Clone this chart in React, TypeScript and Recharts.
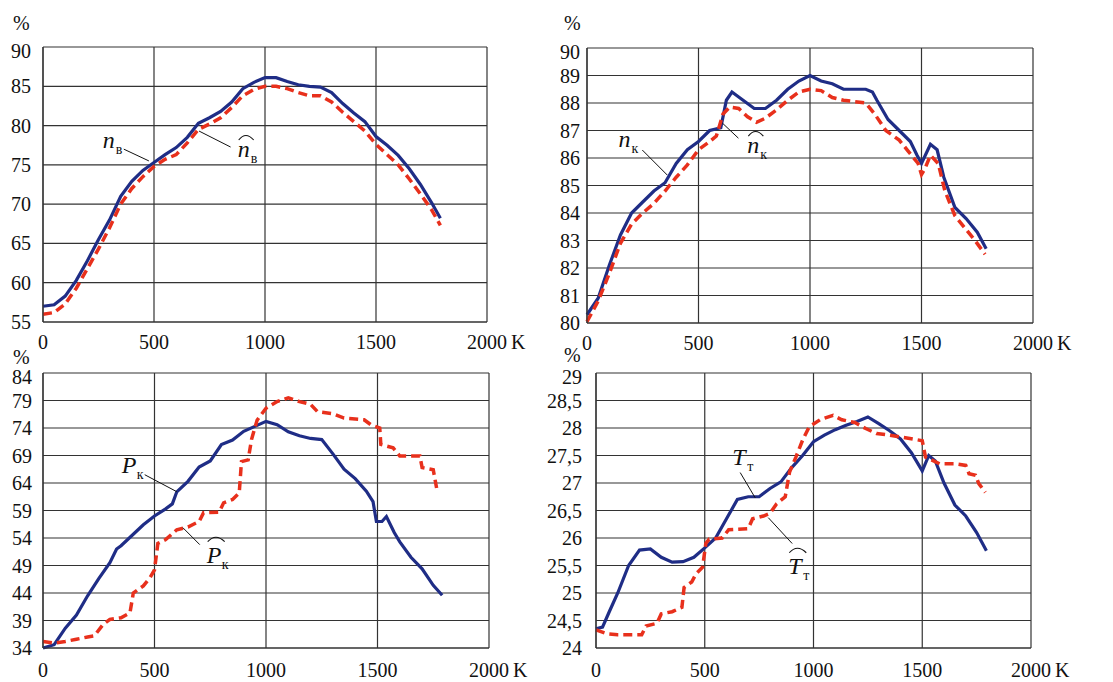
import React from "react";
import {
  LineChart,
  Line,
  XAxis,
  YAxis,
  CartesianGrid,
  ReferenceLine,
  ReferenceDot,
} from "recharts";

const FONT = "Liberation Serif, Times New Roman, serif";
const BLUE = "#1f2d86";
const RED = "#e8301c";

const xTicks = [0, 500, 1000, 1500, 2000];

// panel 1 — n_в
const nvTicks = [55, 60, 65, 70, 75, 80, 85, 90];
const nvX = [
  0, 50, 100, 150, 200, 250, 300, 350, 400, 450, 500, 550, 600, 650, 700, 750,
  800, 850, 900, 950, 1000, 1050, 1100, 1150, 1200, 1250, 1300, 1350, 1400,
  1450, 1500, 1550, 1600, 1650, 1700, 1750, 1790,
];
const nvMeasured = [
  57.0, 57.2, 58.3, 60.3, 62.8, 65.5, 68.0, 71.0, 72.9, 74.3, 75.3, 76.3, 77.2,
  78.5, 80.3, 81.0, 81.8, 83.0, 84.7, 85.5, 86.1, 86.1, 85.6, 85.2, 85.0, 84.9,
  84.2, 82.8, 81.6, 80.5, 78.6, 77.5, 76.2, 74.5, 72.5, 70.2, 68.2,
];
const nvModel = [
  56.0, 56.2, 57.3, 59.3, 61.8, 64.3, 67.0, 70.0, 72.0, 73.5, 74.8, 75.7, 76.3,
  77.8, 79.5, 80.2, 81.0, 82.3, 83.8, 84.6, 85.0, 85.0, 84.7, 84.2, 83.8, 83.8,
  83.0, 81.7, 80.5, 79.3, 77.6, 76.3, 75.0, 73.2, 71.3, 69.3, 67.3,
];

// panel 2 — n_к
const nkTicks = [80, 81, 82, 83, 84, 85, 86, 87, 88, 89, 90];
const nkMeasuredX = [
  0, 50, 100, 150, 200, 250, 300, 350, 400, 450, 500, 550, 600, 625, 650, 700,
  750, 800, 850, 900, 950, 1000, 1050, 1100, 1150, 1200, 1250, 1280, 1300, 1350,
  1400, 1450, 1480, 1500, 1540, 1570, 1600, 1650, 1700, 1750, 1790,
];
const nkMeasured = [
  80.3, 80.9, 82.1, 83.2, 84.0, 84.4, 84.8, 85.1, 85.8, 86.3, 86.6, 87.0, 87.1,
  88.1, 88.4, 88.1, 87.8, 87.8, 88.1, 88.5, 88.8, 89.0, 88.8, 88.7, 88.5, 88.5,
  88.5, 88.4, 88.1, 87.4, 87.0, 86.6, 86.1, 85.8, 86.5, 86.3, 85.3, 84.2, 83.8,
  83.3, 82.7,
];
const nkModelX = [
  0, 50, 100, 150, 200, 250, 300, 350, 400, 450, 500, 550, 580, 610, 640, 680,
  720, 760, 800, 850, 900, 950, 1000, 1050, 1100, 1150, 1200, 1250, 1290, 1340,
  1400, 1440, 1485, 1500, 1515, 1540, 1575, 1605, 1650, 1700, 1740, 1785,
];
const nkModel = [
  80.05, 80.8, 81.8, 82.9, 83.6, 84.0, 84.35, 84.8, 85.3, 85.75, 86.3, 86.6,
  86.8, 87.6, 87.85, 87.8, 87.5, 87.3, 87.45, 87.75, 88.1, 88.4, 88.5, 88.45,
  88.2, 88.1, 88.05, 88.0, 87.6, 87.0, 86.65, 86.25, 85.8, 85.4, 85.6, 86.1,
  85.8, 84.8, 83.9, 83.4, 83.0, 82.5,
];

// panel 3 — P_к
const pkTicks = [34, 39, 44, 49, 54, 59, 64, 69, 74, 79, 84];
const pkMeasuredX = [
  0, 50, 100, 150, 200, 250, 300, 330, 350, 400, 450, 500, 550, 580, 600, 650,
  700, 750, 800, 850, 900, 950, 1000, 1050, 1100, 1150, 1200, 1250, 1300, 1350,
  1400, 1450, 1480, 1495, 1520, 1540, 1575, 1600, 1650, 1700, 1750, 1790,
];
const pkMeasured = [
  34.0, 34.6, 37.6, 40.0, 43.5, 46.6, 49.5, 52.0, 52.6, 54.5, 56.4, 58.0, 59.3,
  60.2, 62.4, 64.3, 66.9, 68.0, 71.0, 71.8, 73.4, 74.3, 75.2, 74.6, 73.3, 72.6,
  72.1, 71.9, 69.3, 66.5, 64.8, 62.5, 60.6, 57.0, 57.0, 57.9, 55.0, 53.3, 50.5,
  48.4, 45.4, 43.6,
];
const pkModelX = [
  0, 50, 100, 150, 200, 230, 270, 300, 350, 390, 405, 450, 480, 500, 515, 550,
  600, 650, 700, 720, 790, 810, 850, 880, 890, 920, 935, 960, 1000, 1050, 1100,
  1150, 1200, 1230, 1300, 1350, 1440, 1470, 1510, 1515, 1570, 1600, 1690, 1700,
  1750, 1765,
];
const pkModel = [
  35.2, 34.9, 35.2, 35.6, 36.0, 36.2, 38.3, 39.2, 39.5, 40.4, 44.0, 45.3, 46.8,
  48.2, 53.0, 53.7, 55.5, 56.0, 57.0, 58.6, 58.7, 60.4, 61.0, 62.2, 67.9, 68.2,
  71.9, 75.4, 77.6, 78.8, 79.5, 78.8, 78.3, 77.0, 76.6, 75.8, 75.5, 74.6, 74.0,
  71.0, 70.4, 68.9, 68.9, 66.8, 66.4, 63.1,
];

// panel 4 — T_т
const ttTicks = [24, 24.5, 25, 25.5, 26, 26.5, 27, 27.5, 28, 28.5, 29];
const ttMeasuredX = [
  0, 30, 60, 100, 150, 200, 250, 300, 350, 400, 450, 500, 550, 600, 650, 700,
  750, 800, 850, 900, 950, 1000, 1050, 1100, 1150, 1200, 1250, 1300, 1350, 1400,
  1450, 1500, 1530, 1560, 1600, 1650, 1700, 1750, 1795,
];
const ttMeasured = [
  24.35, 24.38, 24.65, 25.0, 25.5, 25.78, 25.8, 25.65, 25.56, 25.57, 25.65,
  25.82, 26.0, 26.35, 26.7, 26.75, 26.75, 26.9, 27.02, 27.28, 27.5, 27.75,
  27.87, 27.97, 28.05, 28.12, 28.2, 28.08, 27.95, 27.8, 27.55, 27.22, 27.5,
  27.4, 27.0, 26.6, 26.4, 26.1, 25.77,
];
const ttModelX = [
  0, 50, 100, 150, 210, 230, 280, 300, 350, 395, 405, 440, 460, 490, 505, 520,
  580, 610, 700, 720, 770, 800, 830, 870, 890, 920, 950, 980, 1030, 1090, 1130,
  1190, 1240, 1290, 1350, 1410, 1500, 1515, 1580, 1650, 1700, 1715, 1745, 1760,
  1790,
];
const ttModel = [
  24.33, 24.26, 24.24, 24.24, 24.24, 24.4, 24.45, 24.62, 24.66, 24.74, 25.1,
  25.2, 25.35, 25.47, 25.9, 25.98, 26.0, 26.15, 26.17, 26.35, 26.4, 26.45,
  26.62, 26.75, 27.2, 27.48, 27.78, 28.02, 28.15, 28.23, 28.15, 28.1, 27.99,
  27.9, 27.87, 27.83, 27.77, 27.47, 27.35, 27.35, 27.32, 27.17, 27.14, 26.99,
  26.83,
];

const pts = (xs: number[], ys: number[]) => xs.map((x, i) => ({ x, y: ys[i] }));

interface Note {
  x: number;
  y: number;
  letter: string;
  sub: string;
  hat?: boolean;
  from: [number, number];
  to: [number, number];
}

const SymbolLabel = (props: any) => {
  const { cx, cy, letter, sub, hat } = props;
  const w = letter === "n" ? 12 : 14;
  const top = letter === "n" ? cy - 17 : cy - 21;
  return (
    <g fill="#111">
      <text x={cx} y={cy} fontSize={24} fontStyle="italic" fontFamily={FONT}>
        {letter}
      </text>
      <text x={cx + w + 1} y={cy + 6} fontSize={14} fontFamily={FONT}>
        {sub}
      </text>
      {hat && (
        <path
          d={`M${cx + 1},${top} Q${cx + w / 2 + 2},${top - 9} ${cx + w + 4},${top}`}
          fill="none"
          stroke="#111"
          strokeWidth={1.1}
        />
      )}
    </g>
  );
};

const XTick = (props: any) => {
  const { x, y, payload } = props;
  return (
    <g fill="#111">
      <text x={x} y={y} dy={15} textAnchor="middle" fontFamily={FONT} fontSize={20}>
        {payload.value}
      </text>
      {payload.value === 2000 && (
        <text x={x + 24} y={y} dy={15} fontFamily={FONT} fontSize={20}>
          K
        </text>
      )}
    </g>
  );
};

const YTick = (props: any) => {
  const { x, y, payload, top, comma } = props;
  const v = payload.value;
  const label = comma ? String(v).replace(".", ",") : String(v);
  return (
    <text
      x={x}
      y={y}
      dy={v === top ? 11 : 7}
      textAnchor="end"
      fill="#111"
      fontFamily={FONT}
      fontSize={20}
    >
      {label}
    </text>
  );
};

interface PanelProps {
  left: number;
  top: number;
  width: number;
  height: number;
  marginTop: number;
  marginRight: number;
  yWidth: number;
  xHeight: number;
  xTickMargin: number;
  yTickMargin: number;
  yTicks: number[];
  comma?: boolean;
  measured: { x: number; y: number }[];
  model: { x: number; y: number }[];
  notes: Note[];
  pct: [number, number];
}

const Panel = (p: PanelProps) => {
  const dom: [number, number] = [p.yTicks[0], p.yTicks[p.yTicks.length - 1]];
  return (
    <div style={{ position: "absolute", left: p.left, top: p.top }}>
      <div
        style={{
          position: "absolute",
          left: p.pct[0],
          top: p.pct[1],
          fontFamily: FONT,
          fontSize: 20,
          lineHeight: "20px",
          color: "#111",
        }}
      >
        %
      </div>
      <LineChart
        width={p.width}
        height={p.height}
        margin={{ top: p.marginTop, right: p.marginRight, left: 0, bottom: 0 }}
      >
        <CartesianGrid stroke="#333" strokeWidth={1.2} />
        <XAxis
          dataKey="x"
          type="number"
          domain={[0, 2000]}
          ticks={xTicks}
          height={p.xHeight}
          tickSize={0}
          tickMargin={p.xTickMargin}
          tick={<XTick />}
          axisLine={{ stroke: "#333", strokeWidth: 1.2 }}
          allowDuplicatedCategory={false}
        />
        <YAxis
          type="number"
          domain={dom}
          ticks={p.yTicks}
          width={p.yWidth}
          tickSize={0}
          tickMargin={p.yTickMargin}
          interval={0}
          tick={(tp: any) => <YTick {...tp} top={dom[1]} comma={p.comma} />}
          axisLine={{ stroke: "#333", strokeWidth: 1.2 }}
        />
        <Line
          data={p.measured}
          dataKey="y"
          type="linear"
          stroke={BLUE}
          strokeWidth={3.2}
          dot={false}
          isAnimationActive={false}
        />
        <Line
          data={p.model}
          dataKey="y"
          type="linear"
          stroke={RED}
          strokeWidth={3.5}
          strokeDasharray="9 5"
          dot={false}
          isAnimationActive={false}
        />
        {p.notes.map((n, i) => (
          <ReferenceLine
            key={"l" + i}
            segment={[
              { x: n.from[0], y: n.from[1] },
              { x: n.to[0], y: n.to[1] },
            ]}
            stroke="#111"
            strokeWidth={1}
          />
        ))}
        {p.notes.map((n, i) => (
          <ReferenceDot
            key={"d" + i}
            x={n.x}
            y={n.y}
            r={0}
            ifOverflow="visible"
            shape={(sp: any) => (
              <SymbolLabel
                cx={sp.cx}
                cy={sp.cy}
                letter={n.letter}
                sub={n.sub}
                hat={n.hat}
              />
            )}
          />
        ))}
      </LineChart>
    </div>
  );
};

const nvNotes: Note[] = [
  { x: 269, y: 77.16, letter: "n", sub: "в", from: [364, 77.0], to: [477, 75.5] },
  { x: 877, y: 76.0, letter: "n", sub: "в", hat: true, from: [703, 79.3], to: [845, 77.27] },
];
const nkNotes: Note[] = [
  { x: 141, y: 86.4, letter: "n", sub: "к", from: [248, 86.29], to: [360, 85.38] },
  { x: 719, y: 86.18, letter: "n", sub: "к", hat: true, from: [607, 87.27], to: [679, 86.72] },
];
const pkNotes: Note[] = [
  { x: 353, y: 65.87, letter: "P", sub: "к", from: [456, 65.51], to: [600, 62.42] },
  { x: 734, y: 49.51, letter: "P", sub: "к", hat: true, from: [627, 55.88], to: [703, 52.79] },
];
const ttNotes: Note[] = [
  { x: 626, y: 27.32, letter: "T", sub: "т", from: [663, 27.19], to: [732, 26.73] },
  { x: 884, y: 25.35, letter: "T", sub: "т", hat: true, from: [792, 26.37], to: [902, 25.9] },
];

export default function App() {
  return (
    <div
      style={{
        position: "absolute",
        left: 0,
        top: 0,
        width: 1113,
        height: 682,
        background: "#fff",
        overflow: "hidden",
      }}
    >
      <Panel
        left={0}
        top={0}
        width={540}
        height={360}
        marginTop={47}
        marginRight={53}
        yWidth={43}
        xHeight={38}
        xTickMargin={12}
        yTickMargin={12}
        yTicks={nvTicks}
        measured={pts(nvX, nvMeasured)}
        model={pts(nvX, nvModel)}
        notes={nvNotes}
        pct={[13, 13]}
      />
      <Panel
        left={540}
        top={0}
        width={560}
        height={360}
        marginTop={48}
        marginRight={67}
        yWidth={47}
        xHeight={37}
        xTickMargin={12}
        yTickMargin={7}
        yTicks={nkTicks}
        measured={pts(nkMeasuredX, nkMeasured)}
        model={pts(nkModelX, nkModel)}
        notes={nkNotes}
        pct={[24, 13]}
      />
      <Panel
        left={0}
        top={340}
        width={540}
        height={342}
        marginTop={33}
        marginRight={51}
        yWidth={43}
        xHeight={34}
        xTickMargin={14}
        yTickMargin={11}
        yTicks={pkTicks}
        measured={pts(pkMeasuredX, pkMeasured)}
        model={pts(pkModelX, pkModel)}
        notes={pkNotes}
        pct={[13, 7]}
      />
      <Panel
        left={540}
        top={340}
        width={560}
        height={342}
        marginTop={33}
        marginRight={69}
        yWidth={56}
        xHeight={34}
        xTickMargin={14}
        yTickMargin={14}
        yTicks={ttTicks}
        comma
        measured={pts(ttMeasuredX, ttMeasured)}
        model={pts(ttModelX, ttModel)}
        notes={ttNotes}
        pct={[24, 5]}
      />
    </div>
  );
}
